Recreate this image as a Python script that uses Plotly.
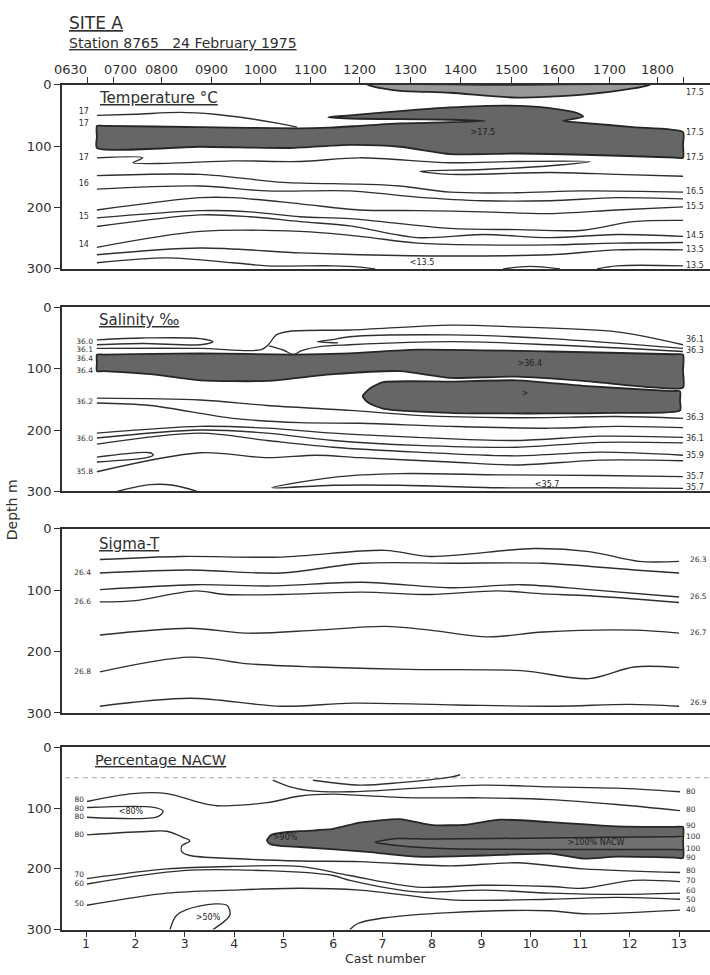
import plotly.graph_objects as go

INK = "#2f2f2f"
SHADE = "#666666"
LENS = "#989898"
CORE = "#717171"
FONT = "DejaVu Sans"

# ---------------------------------------------------------------- axes data
CASTS = list(range(1, 14))
DEPTH_TICKS = [0, 100, 200, 300]
TIME_LABELS = ["0630", "0700", "0800", "0900", "1000", "1100", "1200",
               "1300", "1400", "1500", "1600", "1700", "1800", ""]
TIME_AT_CAST = [1.04, 1.55, 2.52, 3.53, 4.54, 5.55, 6.54,
                7.56, 8.57, 9.60, 10.57, 11.60, 12.57, 13.08]

# ------------------------------------------------ temperature (cast, depth m)
T_SURFACE_LENS = [(6.69, 0), (7.0, 6), (7.35, 10), (8.37, 13), (9.72, 21),
                  (11.06, 16), (12.07, 6), (12.41, 0), (9.5, 0), (6.69, 0)]
T_WARM_CORE = [(1.22, 103), (3.31, 101), (5.13, 103), (6.34, 98), (7.35, 101),
               (8.37, 113), (9.72, 112), (11.06, 114), (12.9, 118.5),
               (13.08, 119), (13.08, 98), (13.08, 77),
               (12.07, 69), (11.06, 62), (10.65, 59), (11.06, 52),
               (10.94, 46), (10.39, 38), (9.51, 34), (8.37, 37), (7.35, 43),
               (6.34, 50), (5.90, 53),
               (6.34, 55), (7.35, 56), (8.37, 57), (9.07, 59),
               (8.37, 61), (7.35, 63), (6.54, 67), (5.90, 70), (5.33, 71),
               (3.31, 69), (1.35, 67), (1.22, 67), (1.22, 85), (1.22, 103)]
T_17_UPPER = [(1.22, 50), (2.0, 48), (2.9, 45), (3.6, 48), (4.3, 55),
              (4.9, 63), (5.27, 69)]
T_17_FOLD = [(1.22, 119), (2.15, 119), (1.95, 127), (2.64, 128), (3.97, 124),
             (5.33, 125), (6.54, 119), (8.37, 127), (9.72, 125), (11.20, 125),
             (10.39, 132), (9.03, 138), (7.76, 141), (8.37, 146), (10.39, 143),
             (11.74, 146), (13.08, 149)]
T_LINE_A = [(1.22, 148), (3.31, 146), (4.99, 159), (6.54, 162), (7.35, 165),
            (8.37, 175), (9.72, 176), (11.06, 173), (13.08, 175)]
T_LINE_B = [(1.22, 170), (3.31, 165), (4.66, 173), (6.34, 173), (7.70, 183),
            (9.03, 189), (10.39, 189), (11.74, 184), (13.08, 186)]
T_LINE_C = [(1.22, 204), (3.31, 184), (3.97, 184), (5.33, 194), (6.54, 204),
            (7.70, 205), (9.03, 207), (10.39, 210), (11.74, 204), (13.08, 199)]
T_LINE_D = [(1.22, 217), (3.31, 205), (4.32, 207), (5.33, 215), (6.34, 218),
            (8.37, 234), (9.72, 236), (11.06, 237), (12.07, 223), (13.08, 221)]
T_LINE_E = [(1.22, 231), (3.31, 212), (4.32, 215), (5.33, 223), (6.34, 230),
            (7.70, 249), (9.03, 244), (10.39, 249), (11.74, 244), (13.08, 247)]
T_LINE_F = [(1.22, 265), (3.31, 239), (5.33, 239), (6.54, 247), (7.70, 258),
            (9.03, 261), (10.39, 261), (11.74, 258), (13.08, 257)]
T_LINE_G = [(1.22, 277), (3.31, 266), (5.33, 274), (6.54, 277), (8.37, 279),
            (10.39, 277), (11.74, 269), (13.08, 269)]
T_LINE_H = [(1.22, 290), (2.64, 282), (3.97, 290), (4.66, 295), (6.0, 295),
            (6.54, 297), (6.85, 300)]
T_BOTTOM_DOME = [(9.44, 300), (9.98, 296), (10.59, 300)]
T_BOTTOM_RIGHT = [(11.34, 300), (11.74, 295), (13.08, 295)]
T_LEFT_LABELS = [("17", 44), ("17", 64), ("17", 120), ("16", 162),
                 ("15", 215), ("14", 261)]
T_RIGHT_LABELS = [("17.5", 13), ("17.5", 78), ("17.5", 119), ("16.5", 175),
                  ("15.5", 199), ("14.5", 247), ("13.5", 269), ("13.5", 295)]
T_INNER_LABELS = [(">17.5", 9.03, 79), ("<13.5", 7.80, 290)]

# --------------------------------------------------- salinity (cast, depth m)
S_BAND = [(1.22, 77), (1.35, 77), (3.31, 75), (5.2, 77), (6.34, 75),
          (7.70, 69), (10.39, 72), (12.9, 76.5), (13.08, 77), (13.08, 104),
          (13.08, 131), (12.41, 130), (11.06, 120), (9.72, 113), (8.37, 115),
          (7.35, 104), (6.0, 109), (4.66, 120), (3.31, 119), (2.30, 109),
          (1.35, 104), (1.22, 104), (1.22, 90), (1.22, 77)]
S_BLOB = [(6.60, 145), (6.75, 132), (7.01, 122), (8.37, 121), (9.72, 119),
          (11.06, 128), (12.85, 136.5), (13.02, 137), (13.02, 152),
          (13.02, 168), (11.74, 172), (10.39, 173), (8.37, 172), (7.01, 165),
          (6.72, 156), (6.60, 145)]
S_LOOP_360 = [(1.22, 53), (2.15, 50), (3.31, 51), (3.57, 56), (3.31, 61),
              (2.15, 59), (1.22, 61)]
S_361 = [(1.22, 67), (3.31, 67), (4.55, 69), (4.70, 60), (4.85, 45),
         (5.13, 39), (6.34, 37), (8.37, 29), (9.72, 32), (11.74, 40),
         (13.08, 61)]
S_HOOK = [(6.1, 58), (5.68, 56), (5.95, 53), (6.34, 48), (8.37, 45),
          (10.39, 51), (13.08, 67)]
S_BULB_BASE = [(4.70, 63), (5.0, 70), (5.2, 77), (5.35, 71), (5.73, 64),
               (6.34, 61), (8.37, 56), (10.39, 61), (13.08, 72)]
S_LINE_1 = [(1.22, 148), (3.31, 151), (4.66, 160), (6.34, 168), (7.70, 176),
            (9.72, 180), (11.74, 178), (13.08, 181)]
S_LINE_2 = [(1.22, 156), (2.30, 160), (3.97, 181), (5.33, 188), (6.54, 189),
            (8.37, 194), (10.39, 197), (11.74, 194), (13.08, 196)]
S_LINE_3 = [(1.22, 205), (3.31, 194), (4.66, 197), (6.0, 205), (7.70, 212),
            (9.72, 217), (11.40, 210), (13.08, 212)]
S_LINE_4 = [(1.22, 213), (3.31, 200), (4.66, 205), (6.0, 217), (7.70, 225),
            (9.72, 228), (11.40, 220), (13.08, 221)]
S_LINE_5 = [(1.22, 223), (3.31, 205), (4.66, 217), (6.0, 228), (7.70, 236),
            (9.72, 242), (11.40, 236), (13.08, 241)]
S_LINE_6 = [(1.22, 268), (3.31, 237), (4.66, 245), (5.67, 241), (6.54, 245),
            (8.37, 252), (9.72, 257), (11.40, 249), (13.08, 250)]
S_LEFT_LOOP = [(1.22, 244), (2.30, 237), (2.36, 241), (2.23, 245), (1.22, 252)]
S_BOTTOM_DOME = [(1.63, 300), (2.30, 289), (2.76, 290), (3.25, 300)]
S_BOTTOM_TONGUE = [(13.08, 276), (11.40, 274), (9.38, 273), (7.35, 271),
                   (6.0, 277), (4.76, 294), (6.0, 290), (7.35, 290),
                   (9.38, 294), (11.40, 294), (13.08, 295)]
S_LEFT_LABELS = [("36.0", 56), ("36.1", 69), ("36.4", 85), ("36.4", 104),
                 ("36.2", 155), ("36.0", 215), ("35.8", 269)]
S_RIGHT_LABELS = [("36.1", 53), ("36.3", 71), ("36.3", 181), ("36.1", 215),
                  ("35.9", 242), ("35.7", 277), ("35.7", 295)]
S_INNER_LABELS = [(">36.4", 9.98, 93), (">", 9.88, 141), ("<35.7", 10.33, 289)]

# ---------------------------------------------------- sigma-t (cast, depth m)
SIG_263 = [(1.28, 50), (2.92, 45), (4.95, 46), (7.05, 35), (7.96, 45),
           (10.07, 32), (11.18, 37), (12.19, 53), (13.0, 53)]
SIG_264 = [(1.28, 72), (3.10, 67), (4.95, 72), (6.58, 56), (8.43, 56),
           (10.25, 56), (12.09, 67), (13.0, 72)]
SIG_265 = [(1.28, 99), (3.21, 91), (4.76, 93), (6.58, 87), (8.43, 96),
           (9.80, 91), (11.18, 99), (13.0, 111)]
SIG_266 = [(1.28, 119), (2.0, 117), (3.21, 101), (3.83, 107), (4.95, 107),
           (6.58, 103), (7.96, 107), (9.34, 101), (10.25, 106), (11.18, 109),
           (13.0, 120)]
SIG_267 = [(1.28, 173), (3.10, 162), (4.30, 170), (5.67, 165), (7.05, 159),
           (7.96, 165), (9.15, 176), (10.25, 168), (12.09, 165), (13.0, 170)]
SIG_268 = [(1.28, 233), (3.10, 209), (4.30, 220), (5.67, 225), (7.52, 229),
           (9.80, 231), (11.18, 244), (12.09, 225), (13.0, 226)]
SIG_269 = [(1.28, 289), (3.10, 276), (4.95, 289), (6.40, 284), (8.5, 287),
           (10.5, 289), (12.0, 286), (13.0, 289)]
SIG_LEFT_LABELS = [("26.4", 72), ("26.6", 119), ("26.8", 233)]
SIG_RIGHT_LABELS = [("26.3", 51), ("26.5", 111), ("26.7", 170), ("26.9", 284)]

# ------------------------------------------------- percentage NACW (cast, m)
N_MIXED_LAYER_DEPTH = 50
N_CORE = [(4.66, 153), (4.75, 144), (5.0, 140), (5.33, 138), (6.0, 134),
          (6.54, 124), (7.35, 118), (8.02, 128), (8.71, 127), (9.38, 119),
          (10.39, 123), (11.74, 130), (12.9, 131), (13.08, 131), (13.08, 156),
          (13.08, 182), (12.9, 181.5), (11.74, 180), (11.06, 183),
          (10.39, 175), (9.03, 178), (7.70, 180), (6.69, 172), (5.33, 164),
          (4.93, 162), (4.72, 159), (4.66, 153)]
N_CORE_100 = [(6.85, 156), (7.3, 150), (8.02, 151), (10.39, 149), (12.9, 147),
              (13.08, 147), (13.08, 157), (13.08, 168), (12.9, 168),
              (10.39, 168), (8.37, 167), (7.35, 162), (6.85, 156)]
N_SHORT_80 = [(5.59, 54), (6.54, 62), (7.35, 58), (8.37, 49), (8.57, 45)]
N_UPPER_80 = [(4.78, 54), (5.13, 65), (5.5, 71), (6.34, 73), (7.70, 67),
              (9.03, 62), (10.39, 65), (11.74, 67), (13.02, 73)]
N_TOP_80 = [(1.02, 89), (1.95, 76), (2.64, 76), (3.31, 91), (3.65, 96),
            (4.66, 91), (5.33, 80), (6.0, 77), (6.54, 79), (7.70, 83),
            (9.03, 83), (10.39, 86), (11.74, 94), (13.02, 104)]
N_LOW_80_LOOP = [(1.02, 99), (2.40, 99), (2.56, 105), (2.45, 114), (1.02, 115)]
N_MID_80 = [(1.02, 144), (2.30, 138), (2.64, 138), (2.96, 148), (3.10, 154),
            (2.94, 162), (2.94, 172), (3.10, 178), (3.97, 183), (5.33, 187),
            (6.54, 188), (8.37, 195), (9.72, 190), (11.06, 200), (13.02, 206)]
N_70 = [(1.02, 216), (2.64, 200), (3.97, 196), (5.33, 196), (6.34, 211),
        (7.70, 230), (9.03, 227), (10.39, 229), (11.06, 232), (12.07, 219),
        (13.02, 221)]
N_60 = [(1.02, 225), (2.96, 203), (4.66, 203), (6.0, 211), (6.34, 219),
        (7.70, 238), (9.03, 235), (10.39, 240), (11.74, 242), (13.02, 240)]
N_50 = [(1.02, 260), (2.64, 240), (3.97, 235), (5.33, 232), (6.54, 235),
        (8.37, 251), (10.39, 250), (11.74, 247), (13.02, 250)]
N_40 = [(6.34, 300), (6.5, 290), (7.01, 281), (8.37, 272), (10.39, 269),
        (11.06, 274), (13.02, 268)]
N_DEEP_50_ARCH = [(2.70, 300), (2.84, 276), (3.31, 261), (3.85, 260),
                  (3.91, 276), (3.57, 300)]
N_LEFT_LABELS = [("80", 86), ("80", 101), ("80", 115), ("80", 144),
                 ("70", 211), ("60", 225), ("50", 258)]
N_RIGHT_LABELS = [("80", 73), ("80", 104), ("90", 130), ("100", 148),
                  ("100", 167), ("90", 183), ("80", 203), ("70", 220),
                  ("60", 237), ("50", 251), ("40", 268)]
N_INNER_LABELS = [("<80%", 1.91, 107), (">90%", 5.03, 150),
                  (">50%", 3.47, 281), (">100% NACW", 11.32, 157)]

# ------------------------------------------------------------------- layout
X_RANGE = [0.514, 13.626]
X_DOMAIN = [0.0873, 1.0]
PANEL_DOMAINS = [(0.7272, 0.9190), (0.4954, 0.6872),
                 (0.2646, 0.4564), (0.0390, 0.2287)]


def axes(k):
    return ("x" if k == 1 else f"x{k}"), ("y" if k == 1 else f"y{k}")


def contour(fig, pts, k, width=1.35, smoothing=0.9):
    xa, ya = axes(k)
    xs, ys = zip(*pts)
    fig.add_trace(go.Scatter(x=xs, y=ys, xaxis=xa, yaxis=ya, mode="lines",
                             line=dict(color=INK, width=width, shape="spline",
                                       smoothing=smoothing),
                             hoverinfo="skip", showlegend=False))


def shaded(fig, pts, k, color, width=1.8):
    xa, ya = axes(k)
    xs, ys = zip(*pts)
    fig.add_trace(go.Scatter(x=xs, y=ys, xaxis=xa, yaxis=ya, mode="lines",
                             fill="toself", fillcolor=color,
                             line=dict(color="#262626", width=width,
                                       shape="spline", smoothing=0.6),
                             hoverinfo="skip", showlegend=False))


def labels(fig, items, k, x, position, size):
    xa, ya = axes(k)
    fig.add_trace(go.Scatter(x=[x] * len(items), y=[d for _, d in items],
                             text=[t for t, _ in items], xaxis=xa, yaxis=ya,
                             mode="text", textposition=position,
                             textfont=dict(family=FONT, size=size, color=INK),
                             cliponaxis=False, hoverinfo="skip",
                             showlegend=False))


def inner_labels(fig, items, k, size):
    xa, ya = axes(k)
    fig.add_trace(go.Scatter(x=[c for _, c, _ in items],
                             y=[d for _, _, d in items],
                             text=[t for t, _, _ in items], xaxis=xa, yaxis=ya,
                             mode="text", textposition="middle center",
                             textfont=dict(family=FONT, size=size, color="#1e1e1e"),
                             hoverinfo="skip", showlegend=False))


fig = go.Figure()

# Temperature
shaded(fig, T_SURFACE_LENS, 1, LENS)
shaded(fig, T_WARM_CORE, 1, SHADE)
for line in [T_17_UPPER, T_17_FOLD, T_LINE_A, T_LINE_B, T_LINE_C, T_LINE_D,
             T_LINE_E, T_LINE_F, T_LINE_G, T_LINE_H, T_BOTTOM_DOME,
             T_BOTTOM_RIGHT]:
    contour(fig, line, 1)
labels(fig, T_LEFT_LABELS, 1, 1.06, "middle left", 8)
labels(fig, T_RIGHT_LABELS, 1, 13.14, "middle right", 8)
inner_labels(fig, T_INNER_LABELS, 1, 8)

# Salinity
shaded(fig, S_BAND, 2, SHADE)
shaded(fig, S_BLOB, 2, SHADE)
for line in [S_LOOP_360, S_361, S_HOOK, S_BULB_BASE, S_LINE_1, S_LINE_2,
             S_LINE_3, S_LINE_4, S_LINE_5, S_LINE_6, S_LEFT_LOOP,
             S_BOTTOM_DOME, S_BOTTOM_TONGUE]:
    contour(fig, line, 2)
labels(fig, S_LEFT_LABELS, 2, 1.14, "middle left", 7.5)
labels(fig, S_RIGHT_LABELS, 2, 13.14, "middle right", 8)
inner_labels(fig, S_INNER_LABELS, 2, 8)

# Sigma-T
for line in [SIG_263, SIG_264, SIG_265, SIG_266, SIG_267, SIG_268, SIG_269]:
    contour(fig, line, 3)
labels(fig, SIG_LEFT_LABELS, 3, 1.10, "middle left", 7.5)
labels(fig, SIG_RIGHT_LABELS, 3, 13.22, "middle right", 7.5)

# Percentage NACW
fig.add_trace(go.Scatter(x=[X_RANGE[0] + 0.06, X_RANGE[1]],
                         y=[N_MIXED_LAYER_DEPTH] * 2, xaxis="x4", yaxis="y4",
                         mode="lines",
                         line=dict(color="#a3a8b0", width=1.1, dash="5px,4px"),
                         hoverinfo="skip", showlegend=False))
shaded(fig, N_CORE, 4, SHADE)
shaded(fig, N_CORE_100, 4, CORE, width=1.5)
for line in [N_SHORT_80, N_UPPER_80, N_TOP_80, N_LOW_80_LOOP, N_MID_80,
             N_70, N_60, N_50, N_40, N_DEEP_50_ARCH]:
    contour(fig, line, 4)
labels(fig, N_LEFT_LABELS, 4, 0.96, "middle left", 7.5)
labels(fig, N_RIGHT_LABELS, 4, 13.14, "middle right", 7.5)
inner_labels(fig, N_INNER_LABELS, 4, 8)

axis_font = dict(family=FONT, size=13, color=INK)
layout = dict(
    width=710, height=975,
    margin=dict(l=0, r=0, t=0, b=0),
    paper_bgcolor="white", plot_bgcolor="white",
    font=dict(family=FONT, color=INK),
    showlegend=False,
)
for k, (lo, hi) in enumerate(PANEL_DOMAINS, start=1):
    xname = "xaxis" if k == 1 else f"xaxis{k}"
    yname = "yaxis" if k == 1 else f"yaxis{k}"
    xa, ya = axes(k)
    xaxis = dict(domain=X_DOMAIN, range=X_RANGE, anchor=ya, showgrid=False,
                 zeroline=False, showline=True, linecolor=INK, linewidth=1.6,
                 mirror=True, ticks="", showticklabels=False, fixedrange=True)
    if k == 1:
        xaxis.update(side="top", ticks="outside", ticklen=6, tickwidth=1.3,
                     tickcolor=INK, tickvals=TIME_AT_CAST)
    if k == 4:
        xaxis.update(ticks="outside", ticklen=6, tickwidth=1.3, tickcolor=INK,
                     tickvals=CASTS, ticktext=[str(c) for c in CASTS],
                     showticklabels=True, ticklabelstandoff=-4,
                     tickfont=dict(family=FONT, size=12.5, color=INK))
    layout[xname] = xaxis
    layout[yname] = dict(domain=[lo, hi], range=[300, 0], anchor=xa,
                         showgrid=False, zeroline=False, showline=True,
                         linecolor=INK, linewidth=1.6, ticks="outside",
                         ticklen=6, tickwidth=1.3, tickcolor=INK,
                         tickvals=DEPTH_TICKS, tickfont=axis_font,
                         fixedrange=True)

ann = []


def text(x, y, s, size, xanchor="left", **kw):
    ann.append(dict(x=x, y=y, xref="paper", yref="paper", text=s,
                    showarrow=False, xanchor=xanchor, yanchor="middle",
                    font=dict(family=FONT, size=size, color=INK), **kw))


text(0.0944, 0.9836, "<u>SITE A</u>", 17)
text(0.0944, 0.9620, "<u>Station 8765\u00a0\u00a0\u00a024 February 1975</u>", 14)
text(0.1366, 0.9056, "<u>Temperature °C</u>", 15)
text(0.1366, 0.6738, "<u>Salinity ‰</u>", 15)
text(0.1366, 0.4410, "<u>Sigma-T</u>", 15)
text(0.1310, 0.2154, "<u>Percentage NACW</u>", 14.5)
text(0.0169, 0.4769, "Depth m", 14, xanchor="center", textangle=-90)
ann.append(dict(x=0.5423, y=0.0, xref="paper", yref="paper",
                text="Cast number", showarrow=False, xanchor="center",
                yanchor="bottom", yshift=-1,
                font=dict(family=FONT, size=12.5, color=INK)))

for i, (lab, pos) in enumerate(zip(TIME_LABELS, TIME_AT_CAST)):
    if not lab:
        continue
    a = dict(x=pos, y=0.9354, xref="x", yref="paper", text=lab,
             showarrow=False, xanchor="center", yanchor="middle",
             font=dict(family=FONT, size=13, color=INK))
    if i == 0:
        a.update(xanchor="right", xshift=1)
    elif i == 1:
        a.update(xshift=7)
    ann.append(a)

layout["annotations"] = ann
fig.update_layout(**layout)
fig.write_html("out.html")
